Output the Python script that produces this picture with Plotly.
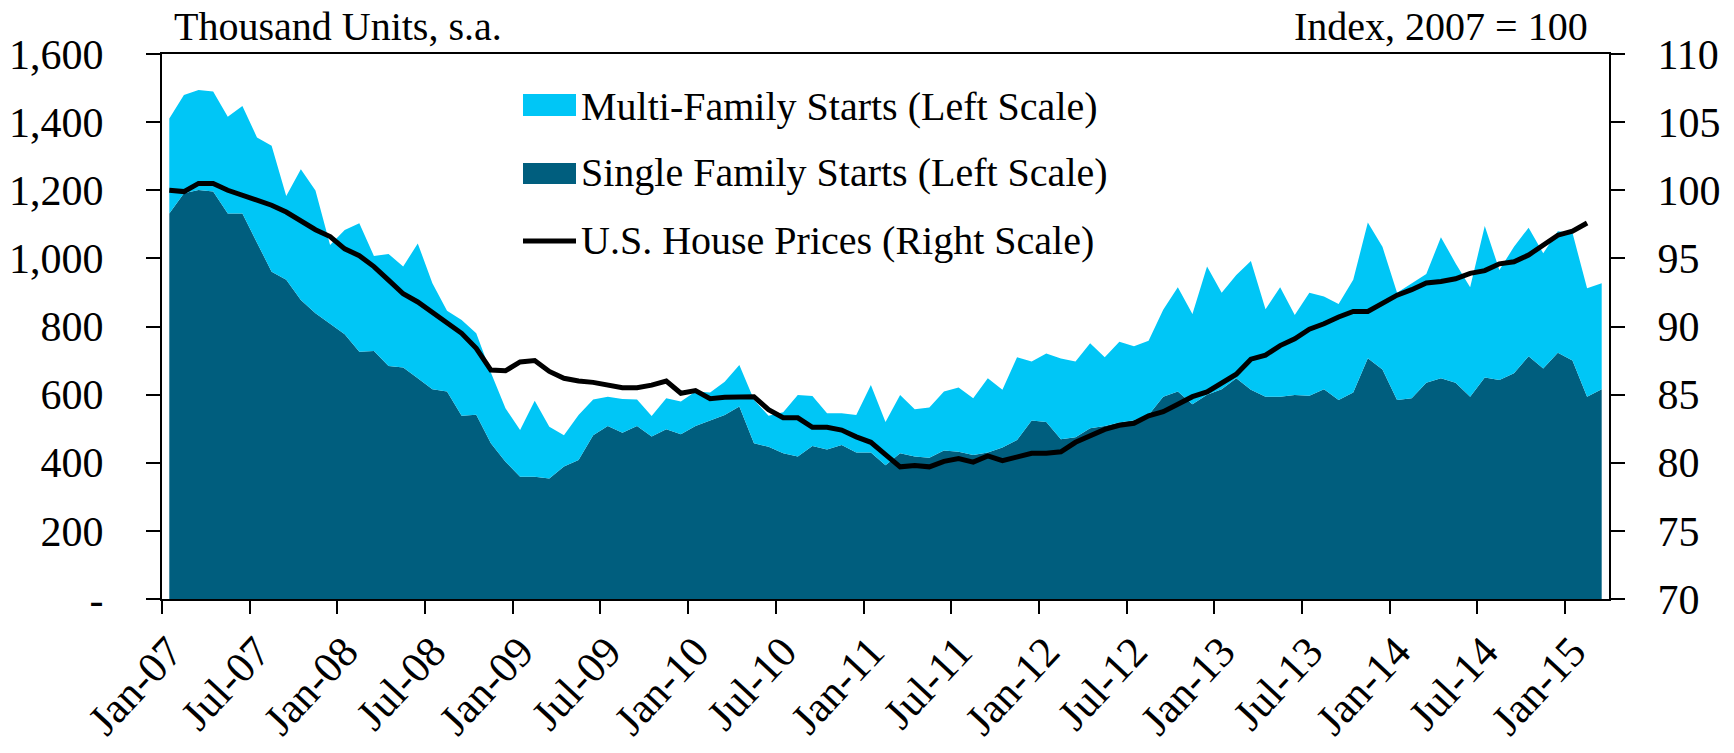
import pandas as pd
import plotly.graph_objects as go

# ---- data ----
months = [d.strftime("%b-%y") for d in pd.date_range("2007-01-01", "2015-03-01", freq="MS")]

total_starts = [
    1411, 1480, 1494, 1490, 1416, 1447, 1355, 1331, 1183, 1262, 1199, 1039,
    1083, 1103, 1007, 1013, 976, 1044, 927, 846, 819, 780, 665, 560,
    496, 582, 506, 481, 540, 586, 594, 587, 586, 537, 589, 580,
    609, 606, 638, 687, 585, 538, 548, 599, 596, 545, 545, 540,
    628, 520, 599, 557, 562, 609, 621, 589, 648, 614, 710, 697,
    721, 706, 697, 751, 710, 755, 742, 758, 849, 915, 837, 976,
    899, 951, 992, 851, 915, 834, 899, 888, 866, 937, 1105, 1034,
    899, 927, 954, 1062, 986, 915, 1095, 966, 1034, 1090, 1015, 1080,
    1075, 912, 927,
]

single_family = [
    1132, 1191, 1201, 1196, 1132, 1132, 1046, 961, 937, 878, 839, 809,
    777, 726, 728, 684, 680, 648, 616, 609, 538, 541, 457, 403,
    359, 359, 354, 389, 408, 481, 508, 488, 508, 477, 498, 484,
    508, 524, 540, 565, 457, 447, 428, 418, 449, 439, 452, 430,
    430, 393, 428, 418, 415, 436, 432, 423, 430, 445, 467, 524,
    520, 469, 475, 501, 508, 518, 525, 540, 594, 609, 572, 600,
    616, 648, 614, 594, 594, 599, 597, 616, 584, 606, 707, 674,
    584, 589, 635, 648, 635, 594, 650, 643, 663, 713, 677, 723,
    700, 594, 616,
]

house_prices = [
    100.0, 99.9, 100.5, 100.5, 100.0, 99.65, 99.3, 98.9, 98.4, 97.7, 97.1, 96.6,
    95.7, 95.2, 94.4, 93.4, 92.4, 91.8, 91.0, 90.2, 89.5, 88.4, 86.8, 86.75,
    87.4, 87.5, 86.7, 86.2, 86.0, 85.9, 85.7, 85.5, 85.5, 85.7, 86.0, 85.1,
    85.3, 84.7, 84.8, 84.8, 84.85, 83.9, 83.3, 83.3, 82.6, 82.6, 82.4, 81.9,
    81.5, 80.6, 79.7, 79.8, 79.7, 80.1, 80.3, 80.05, 80.5, 80.15, 80.45, 80.7,
    80.7, 80.8, 81.5, 82.0, 82.45, 82.75, 82.9, 83.45, 83.75, 84.3, 84.85, 85.2,
    85.9, 86.5, 87.6, 87.9, 88.6, 89.1, 89.8, 90.2, 90.7, 91.1, 91.1, 91.75,
    92.3, 92.7, 93.2, 93.3, 93.5, 93.9, 94.1, 94.6, 94.75, 95.25, 96.0, 96.7,
    97.0, 97.6,
]

left_ticks = [0, 200, 400, 600, 800, 1000, 1200, 1400, 1600]
left_tick_text = ["-", "200", "400", "600", "800", "1,000", "1,200", "1,400", "1,600"]
right_ticks = [70, 75, 80, 85, 90, 95, 100, 105, 110]

names = ["Multi-Family Starts (Left Scale)", "Single Family Starts (Left Scale)",
         "U.S. House Prices (Right Scale)"]

# ---- styles ----
CYAN = "#00C6F6"
DARK = "#005E7E"
FONT = "Liberation Serif"
FS = 40

fig = go.Figure()
fig.add_trace(go.Scatter(x=months, y=single_family, mode="lines", line=dict(width=0),
                         fill="tozeroy", fillcolor=DARK, name=names[1], showlegend=False))
fig.add_trace(go.Scatter(x=months, y=total_starts, mode="lines", line=dict(width=0),
                         fill="tonexty", fillcolor=CYAN, name=names[0], showlegend=False))
fig.add_trace(go.Scatter(x=months[:len(house_prices)], y=house_prices, mode="lines",
                         line=dict(color="black", width=5), name=names[2],
                         yaxis="y2", showlegend=False))

L, R, T, B = 162, 125, 54, 154
W, H = 1734, 753
pw, ph = W - L - R, H - T - B


def px(x):
    return (x - L) / pw


def py(y):
    return (H - B - y) / ph


fig.update_layout(
    width=W, height=H,
    margin=dict(l=L, r=R, t=T, b=B, autoexpand=False),
    paper_bgcolor="white", plot_bgcolor="white",
    font=dict(family=FONT, size=FS, color="black"),
    xaxis=dict(type="category", range=[-0.5, len(months) - 0.5],
               tickmode="linear", tick0=0, dtick=6, tickson="boundaries",
               tickangle=-47, ticks="outside", ticklen=13, tickwidth=2, tickcolor="black",
               showline=True, linewidth=2, linecolor="black", mirror=True,
               showgrid=False, zeroline=False, automargin=False,
               ticklabelstandoff=8, tickfont=dict(size=43)),
    yaxis=dict(range=[0, 1600], tickvals=left_ticks, ticktext=left_tick_text,
               ticks="outside", ticklen=14, tickwidth=2, tickcolor="black",
               showline=True, linewidth=2, linecolor="black",
               showgrid=False, zeroline=False, ticklabelstandoff=34, automargin=False,
               tickfont=dict(size=FS + 2)),
    yaxis2=dict(range=[70, 110], tickvals=right_ticks, overlaying="y", side="right",
                ticks="outside", ticklen=14, tickwidth=2, tickcolor="black",
                showline=True, linewidth=2, linecolor="black",
                showgrid=False, zeroline=False, ticklabelstandoff=24, automargin=False,
                tickfont=dict(size=FS + 2)),
    showlegend=False,
)

# axis unit titles
fig.add_annotation(text="Thousand Units, s.a.", xref="paper", yref="paper",
                   x=px(172), y=py(27), xanchor="left", yanchor="middle",
                   showarrow=False, font=dict(size=FS))
fig.add_annotation(text="Index, 2007 = 100", xref="paper", yref="paper",
                   x=px(1590), y=py(27), xanchor="right", yanchor="middle",
                   showarrow=False, font=dict(size=FS))

# manual legend
sw_x0, sw_x1 = px(523), px(576)
fig.add_shape(type="rect", xref="paper", yref="paper", x0=sw_x0, x1=sw_x1,
              y0=py(116), y1=py(94), fillcolor=CYAN, line=dict(width=0), layer="above")
fig.add_shape(type="rect", xref="paper", yref="paper", x0=sw_x0, x1=sw_x1,
              y0=py(184), y1=py(163), fillcolor=DARK, line=dict(width=0), layer="above")
fig.add_shape(type="line", xref="paper", yref="paper", x0=sw_x0, x1=sw_x1,
              y0=py(241), y1=py(241), line=dict(color="black", width=5), layer="above")
for name, yc in zip(names, [106, 173, 241]):
    fig.add_annotation(text=name, xref="paper", yref="paper", x=px(579), y=py(yc),
                       xanchor="left", yanchor="middle", showarrow=False,
                       font=dict(size=FS))

fig.write_html(
    "out.html",
    config={"displayModeBar": False},
    post_script="document.body.style.margin='0';document.body.style.overflow='hidden';",
)
